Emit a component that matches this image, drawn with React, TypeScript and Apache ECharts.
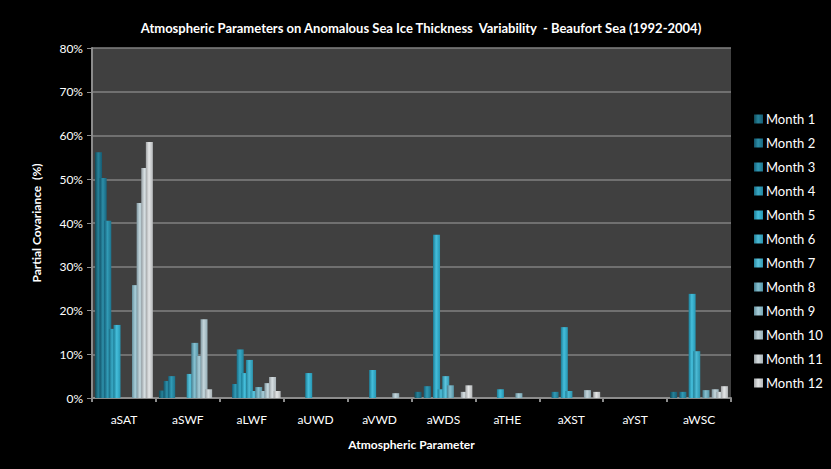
import React, { useEffect, useRef } from "react";
import * as echarts from "echarts";

const categories = ["aSAT", "aSWF", "aLWF", "aUWD", "aVWD", "aWDS", "aTHE", "aXST", "aYST", "aWSC"];
const yTicks = ["0%", "10%", "20%", "30%", "40%", "50%", "60%", "70%", "80%"];
const monthNames = ["Month 1", "Month 2", "Month 3", "Month 4", "Month 5", "Month 6", "Month 7", "Month 8", "Month 9", "Month 10", "Month 11", "Month 12"];

// values in % per category (aSAT ... aWSC)
const month1 = [56.2, 1.7, 0, 0, 0, 1.4, 0, 0, 0, 1.4];
const month2 = [50.3, 3.9, 0, 0, 0, 0, 0, 0, 0, 0];
const month3 = [40.5, 5.0, 3.2, 0, 0, 2.7, 0, 1.4, 0, 1.4];
const month4 = [15.8, 0, 11.1, 0, 0, 0, 0, 0, 0, 0];
const month5 = [16.7, 0, 5.7, 5.7, 6.4, 37.3, 2.0, 16.2, 0, 23.8];
const month6 = [0, 0, 8.7, 0, 0, 2.0, 0, 1.6, 0, 10.7];
const month7 = [0, 5.5, 1.6, 0, 0, 5.0, 0, 0, 0, 0];
const month8 = [0, 12.6, 2.5, 0, 0, 2.9, 0, 0, 0, 1.8];
const month9 = [25.8, 9.6, 1.6, 0, 0, 0, 1.1, 0, 0, 0];
const month10 = [44.6, 18.0, 3.4, 0, 1.1, 0, 0, 1.8, 0, 2.0];
const month11 = [52.6, 2.0, 4.8, 0, 0, 1.4, 0, 0, 0, 1.4];
const month12 = [58.5, 0, 1.6, 0, 0, 2.9, 0, 1.4, 0, 2.7];

const monthData = [month1, month2, month3, month4, month5, month6, month7, month8, month9, month10, month11, month12];

const baseColors = [
  ["#104a58", "#26829a", "#155b72"],
  ["#13546a", "#2c8ea8", "#18667f"],
  ["#16607a", "#319bb6", "#1c738c"],
  ["#196c84", "#38a8c4", "#1f839d"],
  ["#1c7d96", "#45bedb", "#2596b3"],
  ["#217d94", "#4cbad5", "#2a93ad"],
  ["#2a8aa2", "#5cc4dd", "#3399b3"],
  ["#467f90", "#86c0d0", "#5696a8"],
  ["#66919e", "#a8cdd8", "#77a6b4"],
  ["#8199a2", "#c4d6dc", "#94adb6"],
  ["#959ea3", "#d6dee1", "#a8b2b7"],
  ["#a3a6a8", "#e4e6e7", "#b5b8ba"],
];

export default function App() {
  const ref = useRef<HTMLDivElement>(null);
  useEffect(() => {
    if (!ref.current) return;
    const chart = echarts.init(ref.current, null, { renderer: "svg" });
    const series = monthData.map((d, i) => ({
      name: monthNames[i],
      type: "bar",
      data: d,
      barWidth: 7,
      barGap: "-34%",
      itemStyle: {
        color: new echarts.graphic.LinearGradient(0, 0, 1, 0, [
          { offset: 0, color: baseColors[i][0] },
          { offset: 0.45, color: baseColors[i][1] },
          { offset: 1, color: baseColors[i][2] },
        ]),
      },
    }));
    chart.setOption({
      animation: false,
      backgroundColor: "#000000",
      title: {
        text: "Atmospheric Parameters on Anomalous Sea Ice Thickness  Variability  - Beaufort Sea (1992-2004)",
        left: 416,
        textAlign: "center",
        top: 16,
        textStyle: { color: "#ffffff", fontFamily: "Lato", fontWeight: "bold", fontSize: 13 },
      },
      legend: {
        orient: "vertical",
        left: 749,
        top: 107,
        itemWidth: 9,
        itemHeight: 9,
        itemGap: 10,
        icon: "rect",
        textStyle: { color: "#ffffff", fontFamily: "Lato", fontSize: 13, lineHeight: 14, padding: [0, 0, 0, -2] },
        data: monthNames,
      },
      grid: {
        left: 92,
        right: 100,
        top: 48,
        bottom: 71,
        show: true,
        backgroundColor: "#404040",
        borderWidth: 0,
      },
      xAxis: {
        type: "category",
        data: categories,
        name: "Atmospheric Parameter",
        nameLocation: "middle",
        nameGap: 40,
        nameTextStyle: { color: "#ffffff", fontFamily: "Lato", fontWeight: "bold", fontSize: 12 },
        axisLine: { lineStyle: { color: "#8c8c8c", width: 2 } },
        axisTick: { show: true, length: 4, lineStyle: { color: "#8c8c8c", width: 2 } },
        axisLabel: { color: "#ffffff", fontFamily: "Lato", fontSize: 12, margin: 15 },
      },
      yAxis: {
        type: "value",
        min: 0,
        max: 80,
        interval: 10,
        name: "Partial Covariance  (%)",
        nameLocation: "middle",
        nameGap: 50,
        nameTextStyle: { color: "#ffffff", fontFamily: "Lato", fontWeight: "bold", fontSize: 12 },
        axisLine: { show: true, lineStyle: { color: "#8c8c8c", width: 2 } },
        axisTick: { show: true, length: 5, lineStyle: { color: "#8c8c8c", width: 1 } },
        axisLabel: {
          color: "#ffffff",
          fontFamily: "Lato",
          fontSize: 12,
          margin: 9,
          formatter: (v: number) => yTicks[Math.round(v / 10)],
        },
        splitLine: { show: true, lineStyle: { color: "#808080", width: 1.5 } },
      },
      series,
    });
    return () => chart.dispose();
  }, []);
  return (
    <div
      ref={ref}
      style={{ position: "absolute", left: 0, top: 0, width: 831, height: 469, background: "#000" }}
    />
  );
}
